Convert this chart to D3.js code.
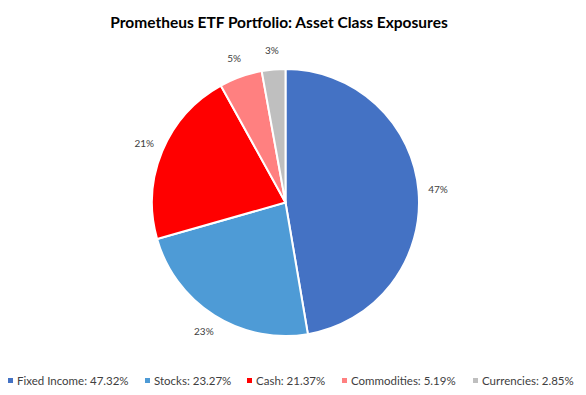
<!DOCTYPE html>
<html><head><meta charset="utf-8">
<script src="https://cdn.jsdelivr.net/npm/d3@7"></script>
<style>body{margin:0;background:#fff;}svg{display:block;}</style>
</head><body>
<svg id="chart" width="586" height="395"></svg>
<script>
const categories = ["Fixed Income", "Stocks", "Cash", "Commodities", "Currencies"];
const values = [47.32, 23.27, 21.37, 5.19, 2.85];
const colors = ["#4472C4", "#4E9BD6", "#FF0000", "#FF8080", "#BFBFBF"];
const legendX = [8, 145, 247, 342, 473];

const svg = d3.select("#chart");
const font = "Lato, 'Open Sans', sans-serif";
svg.append("text").attr("x", 279).attr("y", 28).attr("text-anchor", "middle")
  .attr("font-family", font).attr("font-weight", "bold").attr("font-size", 15.5)
  .attr("fill", "#000").text("Prometheus ETF Portfolio: Asset Class Exposures");

const cx = 285.5, cy = 202.5, r = 133.5;
const data = categories.map((c, i) => ({name: c, value: values[i], color: colors[i]}));
const pie = d3.pie().value(d => d.value).sort(null);
const arcs = pie(data);
const arc = d3.arc().innerRadius(0).outerRadius(r);
const labelArc = d3.arc().innerRadius(153).outerRadius(153);
const g = svg.append("g").attr("transform", `translate(${cx},${cy})`);
g.selectAll("path").data(arcs).join("path")
  .attr("d", arc).attr("fill", d => d.data.color)
  .attr("stroke", "#fff").attr("stroke-width", 2);
g.selectAll("text").data(arcs).join("text")
  .attr("transform", d => `translate(${labelArc.centroid(d)})`)
  .attr("text-anchor", "middle").attr("dy", "0.35em")
  .attr("font-family", font).attr("font-size", 10).attr("fill", "#404040")
  .text(d => Math.round(d.data.value) + "%");

const lg = svg.append("g");
data.forEach((d, i) => {
  lg.append("rect").attr("x", legendX[i]).attr("y", 378).attr("width", 5).attr("height", 5).attr("fill", d.color);
  lg.append("text").attr("x", legendX[i] + 9).attr("y", 384.5)
    .attr("font-family", font).attr("font-size", 11.5).attr("fill", "#404040")
    .text(`${d.name}: ${d.value.toFixed(2)}%`);
});
</script>
</body></html>
